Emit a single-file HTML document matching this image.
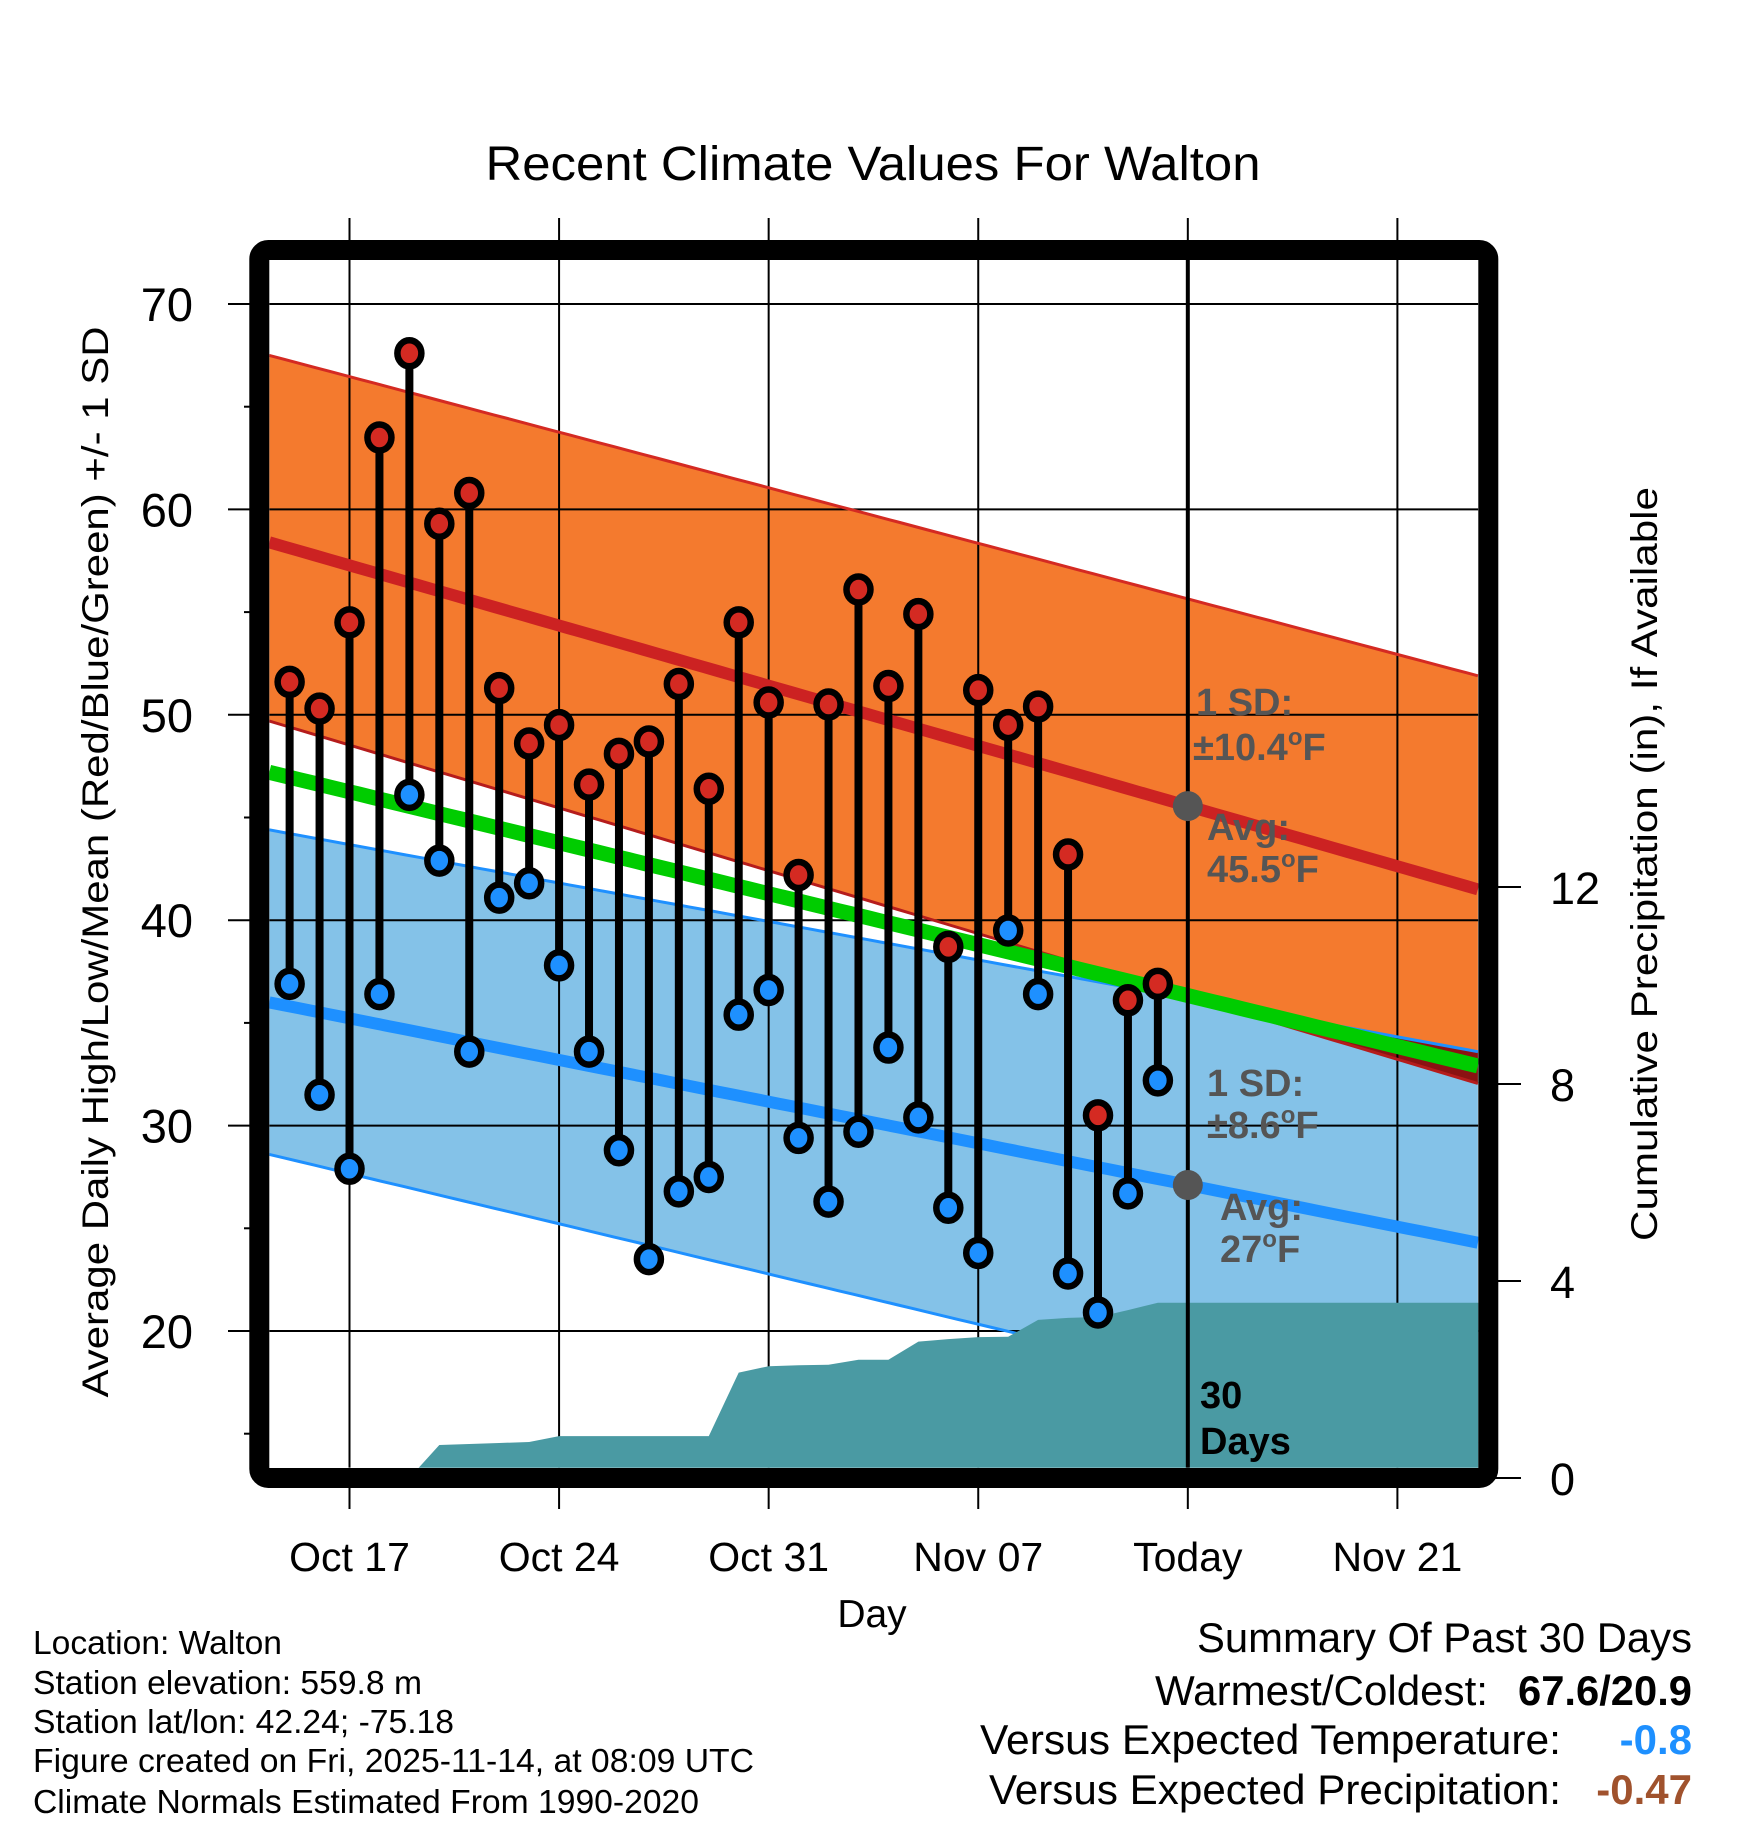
<!DOCTYPE html>
<html><head><meta charset="utf-8"><style>
html,body{margin:0;padding:0;background:#fff;}
svg{display:block;font-family:"Liberation Sans",Arial,sans-serif;}
</style></head><body>
<svg id="chart" width="1748" height="1828" viewBox="0 0 1748 1828" xmlns="http://www.w3.org/2000/svg">
<defs><clipPath id="plotclip"><rect x="269.3" y="260" width="1209" height="1207.7"/></clipPath></defs>
<text x="873" y="180" font-size="48" text-anchor="middle" textLength="775" lengthAdjust="spacingAndGlyphs">Recent Climate Values For Walton</text>
<g id="plot" clip-path="url(#plotclip)"></g>
<g id="axes"></g>
<rect x="259.3" y="250" width="1229" height="1228" rx="9" fill="none" stroke="#000" stroke-width="20"/>
<text transform="translate(108,862) rotate(-90)" font-size="37" text-anchor="middle" textLength="1071" lengthAdjust="spacingAndGlyphs">Average Daily High/Low/Mean (Red/Blue/Green) +/- 1 SD</text>
<text transform="translate(1657,864) rotate(-90)" font-size="37" text-anchor="middle" textLength="754" lengthAdjust="spacingAndGlyphs">Cumulative Precipitation (in), If Available</text>
<text x="872" y="1627" font-size="39" text-anchor="middle">Day</text>
<g font-size="33">
<text x="33" y="1654" textLength="249" lengthAdjust="spacingAndGlyphs">Location: Walton</text>
<text x="33" y="1694" textLength="389" lengthAdjust="spacingAndGlyphs">Station elevation: 559.8 m</text>
<text x="33" y="1733" textLength="421" lengthAdjust="spacingAndGlyphs">Station lat/lon: 42.24; -75.18</text>
<text x="33" y="1772" textLength="721" lengthAdjust="spacingAndGlyphs">Figure created on Fri, 2025-11-14, at 08:09 UTC</text>
<text x="33" y="1813" textLength="666" lengthAdjust="spacingAndGlyphs">Climate Normals Estimated From 1990-2020</text>
</g>
<g font-size="42">
<text x="1692" y="1652" text-anchor="end" textLength="495" lengthAdjust="spacingAndGlyphs">Summary Of Past 30 Days</text>
<text x="1488" y="1705" text-anchor="end" textLength="333" lengthAdjust="spacingAndGlyphs">Warmest/Coldest:</text>
<text x="1692" y="1705" text-anchor="end" font-weight="bold" textLength="174" lengthAdjust="spacingAndGlyphs">67.6/20.9</text>
<text x="1561" y="1754" text-anchor="end" textLength="581" lengthAdjust="spacingAndGlyphs">Versus Expected Temperature:</text>
<text x="1692" y="1754" text-anchor="end" font-weight="bold" fill="#1e90ff">-0.8</text>
<text x="1561" y="1804" text-anchor="end" textLength="572" lengthAdjust="spacingAndGlyphs">Versus Expected Precipitation:</text>
<text x="1692" y="1804" text-anchor="end" font-weight="bold" fill="#a0522d">-0.47</text>
</g>
</svg>
<script>
// Data: days are offsets from Oct 17 (Oct 17 = 0)
const obsDays = [-2,-1,0,1,2,3,4,5,6,7,8,9,10,11,12,13,14,15,16,17,18,19,20,21,22,23,24,25,26,27];
const highs = [51.6,50.3,54.5,63.5,67.6,59.3,60.8,51.3,48.6,49.5,46.6,48.1,48.7,51.5,46.4,54.5,50.6,42.2,50.5,56.1,51.4,54.9,38.7,51.2,49.5,50.4,43.2,30.5,36.1,36.9];
const lows = [36.9,31.5,27.9,36.4,46.1,42.9,33.6,41.1,41.8,37.8,33.6,28.8,23.5,26.8,27.5,35.4,36.6,29.4,26.3,29.7,33.8,30.4,26.0,23.8,39.5,36.4,22.8,20.9,26.7,32.2];
const precip = [0,0,0,0,0,0.67,0.69,0.71,0.73,0.85,0.85,0.85,0.85,0.85,0.85,2.14,2.27,2.29,2.30,2.40,2.40,2.77,2.82,2.86,2.87,3.21,3.25,3.27,3.41,3.56];
const normDays = [-2.68, 37.69];
const sdHighUpper = [67.5, 51.9];
const avgHigh = [58.4, 41.5];
const sdHighLower = [49.7, 32.05];
const avgMean = [47.2, 32.9];
const sdLowUpper = [44.4, 33.6];
const avgLow = [36.0, 24.3];
const sdLowLower = [28.6, 14.5];
const tempTicks = [20,30,40,50,60,70];
const precipTicks = [0,4,8,12];
const dayTickDays = [0,7,14,21,28,35];
const dayTickLabels = ["Oct 17","Oct 24","Oct 31","Nov 07","Today","Nov 21"];
const todayDay = 28;

const NS="http://www.w3.org/2000/svg";
const X0=269.3, X1=1478.3, Y0=260, Y1=1467.7;
function xs(d){return 349.5+29.94*d;}
function ys(t){return 304+(70-t)*20.54;}
function yp(p){return 1478-p*49.25;}
const plot=document.getElementById('plot');
const axes=document.getElementById('axes');
function mk(tag,attrs,parent){const e=document.createElementNS(NS,tag);for(const k in attrs)e.setAttribute(k,attrs[k]);parent.appendChild(e);return e;}
function interp(arr,d){for(let i=0;i<normDays.length-1;i++){if(d<=normDays[i+1]||i===normDays.length-2){const t=(d-normDays[i])/(normDays[i+1]-normDays[i]);return arr[i]+t*(arr[i+1]-arr[i]);}}}
const sampleDays=[];for(let d=-2.68;d<=37.7;d+=0.5)sampleDays.push(d);sampleDays.push(37.69);
function linePts(arr){return sampleDays.map(d=>xs(d).toFixed(1)+','+ys(interp(arr,d)).toFixed(1));}
function band(a,b){return linePts(a).concat(linePts(b).reverse()).join(' ');}

let e;
e=mk('polygon',{points:band(sdHighUpper,sdHighLower),fill:'#f47a2e'},plot);


e=mk('polygon',{points:band(sdLowUpper,sdLowLower),fill:'#84c2e8'},plot);


const ov=[];const ovb=[];
sampleDays.forEach(d=>{const a=interp(sdLowUpper,d),b=interp(sdHighLower,d);if(a>b){ov.push(xs(d).toFixed(1)+','+ys(a).toFixed(1));ovb.unshift(xs(d).toFixed(1)+','+ys(b).toFixed(1));}});
if(ov.length){e=mk('polygon',{points:ov.concat(ovb).join(' '),fill:'#8b1212'},plot);

}
tempTicks.forEach(t=>{e=mk('line',{x1:X0,x2:X1,y1:ys(t),y2:ys(t),stroke:'#000','stroke-width':2},plot);

});
dayTickDays.forEach(d=>{e=mk('line',{x1:xs(d),x2:xs(d),y1:Y0,y2:Y1,stroke:'#000','stroke-width':2},plot);

});
e=mk('polyline',{points:linePts(sdHighUpper).join(' '),fill:'none',stroke:'#d42a22','stroke-width':3},plot);


e=mk('polyline',{points:linePts(sdLowUpper).join(' '),fill:'none',stroke:'#1e90ff','stroke-width':3},plot);


e=mk('polyline',{points:linePts(sdHighLower).join(' '),fill:'none',stroke:'#b51c1c','stroke-width':3},plot);


e=mk('polyline',{points:linePts(sdLowLower).join(' '),fill:'none',stroke:'#1e90ff','stroke-width':3},plot);


e=mk('polyline',{points:linePts(avgHigh).join(' '),fill:'none',stroke:'#cc2222','stroke-width':12},plot);


e=mk('polyline',{points:linePts(avgLow).join(' '),fill:'none',stroke:'#1e90ff','stroke-width':12},plot);


e=mk('polyline',{points:linePts(avgMean).join(' '),fill:'none',stroke:'#00cc00','stroke-width':15},plot);


const pp=[xs(obsDays[0])+','+1500];
obsDays.forEach((d,i)=>pp.push(xs(d).toFixed(1)+','+yp(precip[i]).toFixed(1)));
pp.push(X1+10+','+yp(precip[precip.length-1]).toFixed(1));pp.push(X1+10+',1500');
e=mk('polygon',{points:pp.join(' '),fill:'#4a9aa3'},plot);


e=mk('line',{x1:xs(todayDay),x2:xs(todayDay),y1:Y0,y2:Y1,stroke:'#000','stroke-width':4},plot);


[avgHigh,avgLow].forEach((arr,i)=>{e=mk('circle',{cx:xs(todayDay),cy:ys(interp(arr,todayDay)),r:15,fill:'#555'},plot);

});
obsDays.forEach((d,i)=>{
 const x=xs(d);
 e=mk('line',{x1:x,x2:x,y1:ys(highs[i]),y2:ys(lows[i]),stroke:'#000','stroke-width':8},plot);
 
 
 e=mk('ellipse',{cx:x,cy:ys(highs[i]),rx:12,ry:13,fill:'#d42a22',stroke:'#000','stroke-width':6.5},plot);
 
 
 e=mk('ellipse',{cx:x,cy:ys(lows[i]),rx:12,ry:13,fill:'#1e90ff',stroke:'#000','stroke-width':6.5},plot);
 
 
});
function ann(x,y,txt,name,color,sup){const t=mk('text',{x:x,y:y,'font-size':38,'font-weight':'bold',fill:color},plot);t.textContent=txt;
 if(sup){const s=mk('tspan',{'font-size':24,dy:-15},t);s.textContent='o';const f=mk('tspan',{dy:15},t);f.textContent='F';}
 
 }
ann(1196,715,'1 SD:','high-sd-label','#555');
ann(1193,760,'\u00b110.4','high-sd-value','#555',true);
ann(1207,840,'Avg:','avg-high-label','#555');
ann(1207,882,'45.5','avg-high-value','#555',true);
ann(1207,1096,'1 SD:','low-sd-label','#555');
ann(1207,1138,'\u00b18.6','low-sd-value','#555',true);
ann(1220,1220,'Avg:','avg-low-label','#555');
ann(1220,1262,'27','avg-low-value','#555',true);
ann(1200,1408,'30','days-count','#000');
ann(1200,1454,'Days','days-label','#000');
tempTicks.forEach(t=>{e=mk('line',{x1:228,x2:260,y1:ys(t),y2:ys(t),stroke:'#000','stroke-width':2},axes);
 
 
 e=mk('text',{x:193,y:ys(t)+17,'font-size':47,'text-anchor':'end'},axes);e.textContent=t;
 
 });
[15,25,35,45,55,65].forEach(t=>{e=mk('line',{x1:244,x2:260,y1:ys(t),y2:ys(t),stroke:'#000','stroke-width':2},axes);
 
 });
dayTickDays.forEach((d,i)=>{e=mk('line',{x1:xs(d),x2:xs(d),y1:218,y2:250,stroke:'#000','stroke-width':2},axes);
 
 
 e=mk('line',{x1:xs(d),x2:xs(d),y1:1478,y2:1509,stroke:'#000','stroke-width':2},axes);
 
 
 e=mk('text',{x:xs(d),y:1571,'font-size':41,'text-anchor':'middle'},axes);e.textContent=dayTickLabels[i];
 
 });
precipTicks.forEach(p=>{e=mk('line',{x1:1488,x2:1521,y1:yp(p),y2:yp(p),stroke:'#000','stroke-width':2},axes);
 
 
 e=mk('text',{x:1550,y:yp(p)+17,'font-size':45},axes);e.textContent=p;
 
 });
</script>
</body></html>
